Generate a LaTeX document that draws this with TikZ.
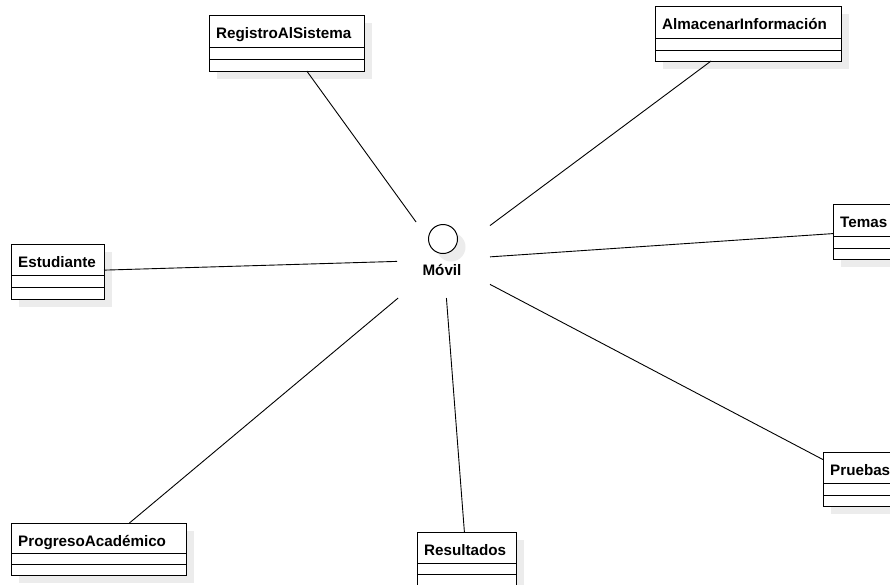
\documentclass[tikz,border=0pt]{standalone}
\usepackage{fontspec}
\setmainfont{Liberation Sans}
\definecolor{shadowgray}{RGB}{236,236,236}
\newcommand\umlclass[8]{%
  \fill[shadowgray] ({#2+8},{#3+8}) rectangle ({#4+8},{#7+8});
  \node[boxframe, minimum width={#4-#2}, minimum height={#7-#3}, anchor=north west] (#1) at (#2,#3) {};
  \draw[sepline] ({#2},{#5}) -- ({#4},{#5});
  \draw[sepline] ({#2},{#6}) -- ({#4},{#6});
  \node[hdr, anchor=base west] (#1-t) at ({#2+7},{#3+23}) {#8};
}
\begin{document}
\begin{tikzpicture}[x=1pt,y=-1pt,
  boxframe/.style={draw=black, fill=white, line width=1pt, inner sep=0pt, outer sep=0pt},
  sepline/.style={draw=black, line width=1pt},
  hdr/.style={font=\bfseries\fontsize{15.2}{17}\selectfont, inner sep=0pt},
  link/.style={draw=black, line width=0.9pt}]
\useasboundingbox (0,0) rectangle (890,584);

\umlclass{reg}{209}{15}{364}{47}{59}{71}{RegistroAlSistema}
\umlclass{alm}{655}{6}{841}{38}{50}{61}{AlmacenarInformación}
\umlclass{est}{11}{244}{104}{275}{287}{299}{Estudiante}
\umlclass{tem}{833}{204}{895}{236}{248}{259}{Temas}
\umlclass{pru}{823}{452}{897}{483}{495}{506}{Pruebas}
\umlclass{pro}{11}{523}{186}{553}{564}{575}{ProgresoAcadémico}
\umlclass{res}{417}{532}{516}{563}{574}{587}{Resultados}

% interface
\fill[shadowgray] (451,247) circle (14.5);
\node[draw=black, fill=white, circle, line width=1pt, minimum size=29, inner sep=0pt] (movc) at (443,239) {};
\node[hdr, anchor=base] (movt) at (442,275) {Móvil};
\node[draw=none, minimum width=93, minimum height=76, inner sep=0pt, outer sep=0pt] (hub) at (443.5,260) {};

\draw[link] (hub) -- (reg);
\draw[link] (hub) -- (alm);
\draw[link] (hub) -- (est);
\draw[link] (hub) -- (tem);
\draw[link] (hub) -- (pru);
\draw[link] (hub) -- (pro);
\draw[link] (hub) -- (res);
\end{tikzpicture}
\end{document}
